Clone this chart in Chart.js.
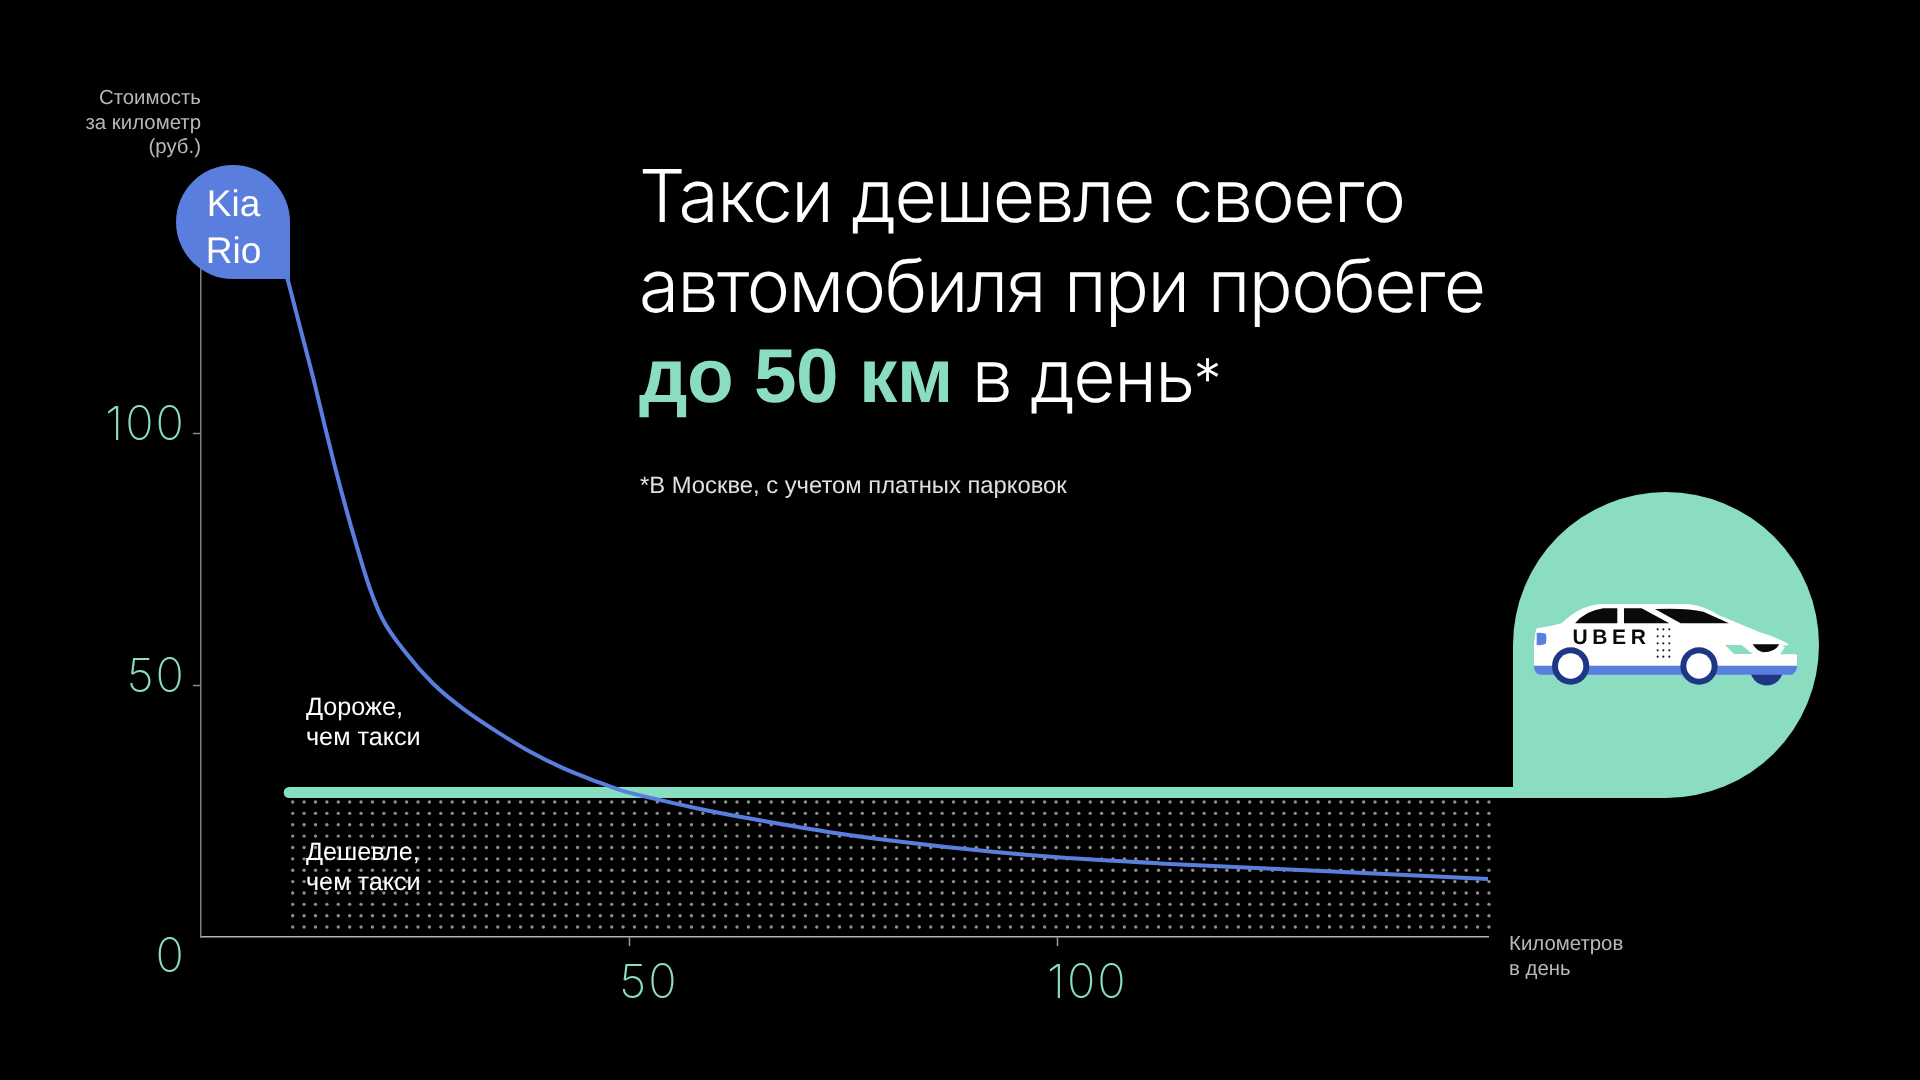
<!DOCTYPE html>
<html lang="ru">
<head>
<meta charset="utf-8">
<title>Такси дешевле своего автомобиля</title>
<script src="https://cdn.jsdelivr.net/npm/chart.js@4"></script>
<style>
html,body{margin:0;padding:0;background:#000;width:1920px;height:1080px;overflow:hidden}
#wrap{position:relative;width:1920px;height:1080px}
canvas#c{position:absolute;left:0;top:0}
.t{position:absolute;white-space:pre;font-family:"Liberation Sans",sans-serif;color:#fff;text-rendering:geometricPrecision}
#title{left:639px;top:151px;font-family:Inter,"Liberation Sans",sans-serif;font-weight:300;font-size:73px;line-height:90px;letter-spacing:-1.5px}
#title b{font-family:"Liberation Sans",sans-serif;font-weight:700;font-size:76.5px;color:#8bddc2;letter-spacing:-.5px}
#title i{font-style:normal;font-size:56px;letter-spacing:0;position:relative;top:-3px}
#note{left:640px;top:472px;font-size:23.8px;line-height:28px;color:#e0e0e0}
#ylab{right:1719px;top:86px;font-size:20.4px;line-height:24.5px;text-align:right;color:#b8b8b8}
#xlab{left:1509px;top:932px;font-size:20.4px;line-height:24.5px;color:#b8b8b8}
#kia{left:176.5px;top:180px;width:114px;text-align:center;font-size:37px;line-height:47px;color:#fff}
#over,#under{left:306px;font-size:25.2px;line-height:29.5px;color:#fff}
#over{top:693px}
#under{top:838px}
#uber{left:1572.5px;top:626px;font-size:21px;line-height:24px;font-weight:700;letter-spacing:4.6px;color:#0a0a0a}
</style>
</head>
<body>
<div id="wrap">
<canvas id="c" width="1920" height="1080"></canvas>
<div class="t" id="title">Такси дешевле своего
автомобиля при пробеге
<b>до 50 км</b> в день<i>*</i></div>
<div class="t" id="note">*В Москве, с учетом платных парковок</div>
<div class="t" id="ylab">Стоимость
за километр
(руб.)</div>
<div class="t" id="xlab">Километров
в день</div>
<div class="t" id="kia">Kia
Rio</div>
<div class="t" id="over">Дороже,
чем такси</div>
<div class="t" id="under">Дешевле,
чем такси</div>
<div class="t" id="uber">UBER</div>
</div>
<script>
const carKm   = [10.05,11.57,13.08,14.49,15.65,17.06,18.57,19.74,21.14,23.83,27.1,30.6,34.6,38.4,42.3,46.3,48.9,53.3,58.3,63.8,73.1,80.8,92.5,100.1,112,132.2,150.35];
const carCost = [130.95,121,111.1,101.2,93.25,84.3,75.4,69.1,63.3,56.6,50.3,45.3,40.7,36.8,33.5,30.8,29.2,27.3,25.4,23.6,20.9,19.1,16.9,15.8,14.6,13,11.5];
const taxiKm   = [10.3,155];
const taxiCost = [28.67,28.67];
const xTicks = [0,50,100];
const yTicks = [0,50,100];
const xMax = 150.35, yMax = 140;

const GREEN = '#8bddc2', BLUE = '#5a7ede', NAVY = '#1d3785';

const decor = {
  id:'decor',
  beforeDraw(ch){ ch.ctx.letterSpacing = '2px'; },
  beforeDatasetsDraw(ch){
    const c = ch.ctx, y28 = ch.scales.y.getPixelForValue(taxiCost[0]);
    c.letterSpacing = '0px';
    c.save();
    c.fillStyle = '#8e8e8e';
    for(let r=0;r<12;r++){
      for(let k=0;k<=105;k++){
        c.beginPath();
        c.arc(292.7+k*11.393, y28+9.5+r*11.37, 1.7, 0, Math.PI*2);
        c.fill();
      }
    }
    c.restore();
  },
  afterDatasetsDraw(ch){
    const c = ch.ctx, X = ch.scales.x, Y = ch.scales.y;
    c.save();
    // Kia Rio marker: corner sits on the first point of the car curve
    const kx = X.getPixelForValue(carKm[0])+3, ky = Y.getPixelForValue(carCost[0])+2, kr = 57;
    c.fillStyle = BLUE;
    c.beginPath();
    c.moveTo(kx,ky);
    c.lineTo(kx,ky-kr);
    c.arc(kx-kr,ky-kr,kr,0,Math.PI/2,true);
    c.closePath();
    c.fill();
    // Taxi marker: corner sits on the taxi line
    const tx = 1513, ty = Y.getPixelForValue(taxiCost[0])+5.5, tr = 153;
    c.fillStyle = GREEN;
    c.beginPath();
    c.moveTo(tx,ty);
    c.lineTo(tx+tr,ty);
    c.arc(tx+tr,ty-tr,tr,Math.PI/2,Math.PI,true);
    c.closePath();
    c.fill();
    drawCar(c);
    c.restore();
  }
};

function drawCar(c){
  const P = (x,y)=>[1530+x/3, 595+y/3];
  const poly = (pts,fill)=>{
    c.fillStyle = fill; c.beginPath();
    pts.forEach((p,i)=>{const q=P(p[0],p[1]); i?c.lineTo(q[0],q[1]):c.moveTo(q[0],q[1]);});
    c.closePath(); c.fill();
  };
  const circ = (x,y,r,fill)=>{const q=P(x,y); c.fillStyle=fill; c.beginPath(); c.arc(q[0],q[1],r/3,0,Math.PI*2); c.fill();};
  const curve = (cmds,fill)=>{
    c.fillStyle = fill; c.beginPath();
    cmds.forEach(m=>{
      if(m.length===2){const q=P(m[0],m[1]); c.lineTo(q[0],q[1]);}
      else{const a=P(m[0],m[1]),b=P(m[2],m[3]); c.quadraticCurveTo(a[0],a[1],b[0],b[1]);}
    });
    c.closePath(); c.fill();
  };
  // front under-car dark arc
  const fw = P(710,222); c.fillStyle = NAVY; c.beginPath(); c.arc(fw[0],fw[1],16.5,0,Math.PI); c.fill();
  // body
  curve([[12,212],[12,150],[14,120,20,100],[60,95,95,85],[150,30,215,27],[470,27],[520,30,565,60],[690,112],[750,130,778,150],[755,152],[790,168,801,180],[801,215],[12,215]],'#ffffff');
  // sill
  curve([[12,212],[801,212],[801,232,785,239],[30,239],[12,235,12,212]],BLUE);
  // windows
  curve([[135,85],[165,48,220,40],[262,40],[262,85]],'#0a0a0a');
  curve([[282,40],[335,40],[418,85],[282,85]],'#0a0a0a');
  curve([[375,42],[470,38,520,50],[597,85],[452,85]],'#0a0a0a');
  // lights
  curve([[20,114],[42,112,48,118],[50,130,48,145],[42,152,20,150]],BLUE);
  poly([[585,150],[635,150],[668,177],[612,177]],GREEN);
  curve([[668,148],[748,148],[735,172,700,172],[680,168,668,148]],'#0a0a0a');
  poly([[750,178],[768,152],[785,152],[800,178]],GREEN);
  // door dots
  [[383,103],[400,103],[418,103],[383,124],[400,124],[418,124],[383,145],[400,145],[418,145],[383,166],[400,166],[418,166],[383,185],[400,185],[418,185]].forEach(d=>circ(d[0],d[1],3.2,'#1a1a1a'));
  // wheels
  [[122,213],[507,213]].forEach(w=>{circ(w[0],w[1],56,NAVY);circ(w[0],w[1],38,'#ffffff');});
}

new Chart(document.getElementById('c'),{
  type:'line',
  data:{datasets:[
    {label:'Kia Rio',data:carKm.map((v,i)=>({x:v,y:carCost[i]})),borderColor:BLUE,borderWidth:4,pointRadius:0,cubicInterpolationMode:'monotone',order:0,clip:false},
    {label:'Uber',data:taxiKm.map((v,i)=>({x:v,y:taxiCost[i]})),borderColor:'#85dfc0',borderWidth:11,borderCapStyle:'round',pointRadius:0,order:1,clip:false}
  ]},
  options:{
    responsive:false,animation:false,devicePixelRatio:1,
    layout:{padding:{top:231.4,right:432,left:0,bottom:0}},
    plugins:{legend:{display:false},tooltip:{enabled:false},title:{display:false}},
    scales:{
      x:{
        type:'linear',min:0,max:xMax,
        afterBuildTicks:s=>{s.ticks=xTicks.map(v=>({value:v}));},
        afterFit:s=>{s.height=143;},
        border:{display:true,color:'#b4b4b4',width:1.5},
        grid:{drawOnChartArea:false,drawTicks:true,tickLength:9,tickColor:ctx=>ctx.tick&&ctx.tick.value===0?'rgba(0,0,0,0)':'#9a9a9a',tickWidth:1.5},
        ticks:{autoSkip:false,maxRotation:0,align:'start',labelOffset:-10,padding:9.5,color:GREEN,
          font:{family:'Inter',size:47,weight:'200'},callback:v=>v===0?'':String(v)}
      },
      y:{
        type:'linear',min:0,max:yMax,
        afterBuildTicks:s=>{s.ticks=yTicks.map(v=>({value:v}));},
        afterFit:s=>{s.width=201;},
        border:{display:true,color:'#808080',width:1.5},
        grid:{drawOnChartArea:false,drawTicks:true,tickLength:8,tickColor:ctx=>ctx.tick&&ctx.tick.value===0?'rgba(0,0,0,0)':'#8a8a8a',tickWidth:1.5},
        ticks:{autoSkip:false,labelOffset:-7.5,padding:7,color:GREEN,
          font:{family:'Inter',size:47,weight:'200'},callback:v=>v===0?['','0']:String(v)}
      }
    }
  },
  plugins:[decor]
});
</script>
</body>
</html>
